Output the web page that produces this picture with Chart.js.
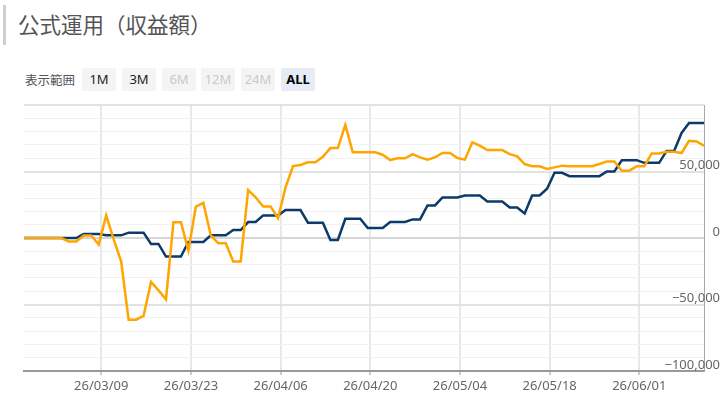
<!DOCTYPE html>
<html>
<head>
<meta charset="utf-8">
<script src="https://cdn.jsdelivr.net/npm/chart.js@4.4.1/dist/chart.umd.min.js"></script>
<style>
  html, body { margin: 0; padding: 0; background: #fff; }
  body { width: 720px; height: 402px; position: relative; overflow: hidden; font-family: "Noto Sans", "Noto Sans CJK JP", sans-serif; }
  #bar { position: absolute; left: 3px; top: 5px; width: 3px; height: 40px; background: #cfcfcf; }
  #title { position: absolute; left: 18px; top: 9px; font-family: "Noto Sans CJK JP", sans-serif; font-size: 21.5px; line-height: 30px; color: #555; white-space: nowrap; }
  #range { position: absolute; left: 25px; top: 68px; height: 23px; line-height: 23px; font-family: "Noto Sans CJK JP", sans-serif; font-size: 12.5px; color: #555; }
  .btn { position: absolute; top: 68px; width: 34px; height: 23px; line-height: 23px; text-align: center; background: #f4f4f4; border-radius: 2px; font-size: 13px; color: #222; font-family: "Noto Sans", sans-serif; }
  .btn.dis { color: #c9c9c9; }
  .btn.on { background: #e6ebf5; color: #000; font-weight: bold; }
  #c { position: absolute; left: 0; top: 95px; }
</style>
</head>
<body>
<div id="bar"></div>
<div id="title">公式運用（収益額）</div>
<div id="range">表示範囲</div>
<div class="btn" style="left:82px">1M</div>
<div class="btn" style="left:122px">3M</div>
<div class="btn dis" style="left:162px">6M</div>
<div class="btn dis" style="left:201px">12M</div>
<div class="btn dis" style="left:241px">24M</div>
<div class="btn on" style="left:281px">ALL</div>
<canvas id="c" width="720" height="307"></canvas>
<script>
// Data (one value per trading point, left to right)
const orangeSeries = [0,0,0,0,0,0,-2600,-2600,1900,1900,-4900,17000,-1000,-17500,-61400,-61400,-58600,-33100,-39400,-46100,
  11900,11900,-9400,23600,26400,1900,-3900,-3900,-17600,-17600,36100,30600,23600,23600,14900,38100,54100,54900,56900,56900,
  61100,67600,67600,85100,64400,64400,64400,64400,62600,58600,59900,59900,63100,60600,58900,60600,63900,63900,60100,58900,
  71900,69400,66100,66100,66100,63100,61400,55600,53900,53900,51900,53100,54400,53900,53900,53900,53900,55600,57600,57600,
  50600,50600,53900,53900,63600,63600,64900,64900,63900,73100,72600,69400];
const blueSeries = [0,0,0,0,0,0,0,0,3000,3000,3000,2000,2000,2000,4000,4000,4000,-4500,-4500,-14000,
  -14000,-14000,-3000,-3000,-3000,2000,2000,2000,6000,6000,12000,12000,17000,17000,17000,21000,21000,21000,11500,11500,
  11500,-1500,-1500,14500,14500,14500,7500,7500,7500,12000,12000,12000,14000,14000,24500,24500,30500,30500,30500,32000,
  32000,32000,27500,27500,27500,23000,23000,18500,32000,32000,37000,49000,49000,46500,46500,46500,46500,46500,50000,50000,
  58500,58500,58500,56500,56500,56500,65500,65500,79000,86500,86500,86500];
const xTickLabels = ['26/03/09','26/03/23','26/04/06','26/04/20','26/05/04','26/05/18','26/06/01'];
const xTickIndex = [10.34, 22.34, 34.34, 46.34, 58.34, 70.34, 82.34];
const yMin = -100000, yMax = 100000, yStep = 10000;
const yLabelValues = [50000, 0, -50000, -100000];

const toPts = arr => arr.map((v, i) => ({x: i, y: v}));
const fmt = v => (v < 0 ? '\u2212' : '') + Math.abs(v).toLocaleString('en-US');
const tickFont = {family: '"Noto Sans", sans-serif', size: 13};

new Chart(document.getElementById('c'), {
  type: 'line',
  data: {
    datasets: [
      {data: toPts(orangeSeries), borderColor: '#ffa500', borderWidth: 2.5, pointRadius: 0, tension: 0, fill: false},
      {data: toPts(blueSeries), borderColor: '#0c3a6b', borderWidth: 2.5, pointRadius: 0, tension: 0, fill: false}
    ]
  },
  options: {
    responsive: false,
    animation: false,
    devicePixelRatio: 1,
    layout: {padding: {top: 10, left: 24, right: 0, bottom: 0}},
    plugins: {legend: {display: false}, tooltip: {enabled: false}},
    scales: {
      x: {
        type: 'linear',
        min: 0, max: orangeSeries.length - 1,
        afterBuildTicks: s => { s.ticks = xTickIndex.map(v => ({value: v})); },
        afterFit: s => { s.height = 31; },
        ticks: {autoSkip: false, maxRotation: 0, padding: 3, color: '#666', font: tickFont,
          callback: (v, i) => xTickLabels[i]},
        grid: {color: '#e8e8e8', lineWidth: 2, tickLength: 4, tickColor: '#999', tickWidth: 1},
        border: {display: true, color: '#999', width: 2}
      },
      y: {
        position: 'right',
        min: yMin, max: yMax,
        afterBuildTicks: s => { const t = []; for (let v = yMin; v <= yMax; v += yStep) t.push({value: v}); s.ticks = t; },
        afterFit: s => { s.width = 16; s.paddingTop = 0; s.paddingBottom = 0; },
        ticks: {autoSkip: false, mirror: true, labelOffset: -6, padding: 16, color: '#666', font: tickFont,
          callback: v => yLabelValues.includes(v) ? fmt(v) : ''},
        grid: {
          drawTicks: false,
          color: c => (c.tick && c.tick.value === 0) ? '#d6d6d6' : (c.tick && c.tick.value % 50000 === 0 ? '#e2e2e2' : '#f1f1f1'),
          lineWidth: c => (c.tick && c.tick.value % 50000 === 0) ? 2 : 1
        },
        border: {display: true, color: '#a8a8a8', width: 1}
      }
    }
  }
});
</script>
</body>
</html>
